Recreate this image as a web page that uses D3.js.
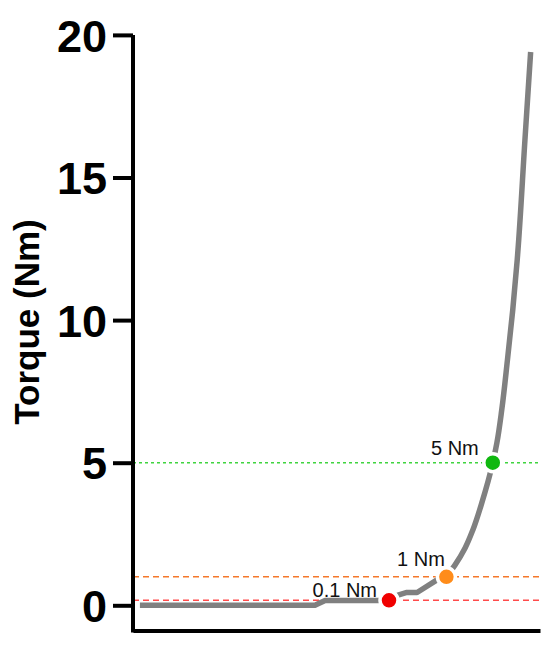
<!DOCTYPE html>
<html lang="en">
<head>
<meta charset="UTF-8">
<title>Torque curve</title>
<style>
html, body {
  margin: 0;
  padding: 0;
  background: #fff;
}
body {
  font-family: Arial, 'Liberation Sans', sans-serif;
}
.axis path,
.axis line {
  stroke: #000;
  stroke-width: 4;
}
.axis text {
  font-size: 45px;
  font-weight: bold;
  fill: #000;
}
.label {
  font-size: 20px;
  fill: #111;
}
.curve {
  fill: none;
  stroke: #808080;
  stroke-width: 5.5;
}
</style>
</head>
<body>
<svg width="550" height="648"></svg>
<script src="https://cdnjs.cloudflare.com/ajax/libs/d3/7.8.5/d3.min.js"></script>
<script>
// position along the (unlabelled) x axis, 0-100
const position = [1.7, 44.7, 47.2, 60.0, 62.9, 65.1, 67.3, 69.8, 74.7, 77.0,
  79.1, 81.6, 83.5, 85.7, 88.4, 89.4, 90.6, 92.0, 93.3, 94.4, 96.3, 97.7];
// torque in Nm
const torque = [0, 0, 0.17, 0.17, 0.175, 0.36, 0.45, 0.45, 0.89, 1.0,
  1.41, 2.01, 2.64, 3.59, 5.0, 5.69, 6.85, 8.6, 10.35, 12.11, 16.32, 19.4];

// threshold crossings
const thresholdLabels = ['0.1 Nm', '1 Nm', '5 Nm'];
const thresholdTorque = [0.175, 1.0, 5.0];
const thresholdPosition = [62.9, 77.0, 88.4];

const yTicks = [0, 5, 10, 15, 20];

// styles per threshold
const lineColors = ['#ff4a4a', '#f5782a', '#3fd43f'];
const dotColors = ['#f00000', '#ff8c1a', '#10b810'];
const dashes = ['6,4', '6,4', '3,3'];
const labelOffsets = [[-12, -3], [-1.5, -11], [-14, -8]];

var svg = d3.select('svg');

var x = d3.scaleLinear().domain([0, 100]).range([133, 540]);
var y = d3.scaleLinear().domain([0, 20]).range([605.3, 34.9]);

// dashed threshold lines
svg.append('g')
  .selectAll('line')
  .data(thresholdTorque)
  .enter()
  .append('line')
  .attr('x1', x(0))
  .attr('x2', x(100))
  .attr('y1', d => y(d))
  .attr('y2', d => y(d))
  .attr('stroke', (d, i) => lineColors[i])
  .attr('stroke-width', 1.5)
  .attr('stroke-dasharray', (d, i) => dashes[i]);

// y axis
var yAxis = svg.append('g')
  .attr('class', 'axis')
  .attr('transform', 'translate(' + x(0) + ',0)')
  .call(d3.axisLeft(y).tickValues(yTicks).tickSize(20).tickSizeOuter(0).tickPadding(6));
yAxis.select('.domain').attr('d', 'M0,' + y(20) + 'V632.5');
yAxis.selectAll('text').attr('dy', '0.36em');

// x axis, no ticks
svg.append('g')
  .attr('class', 'axis')
  .attr('transform', 'translate(0,630.5)')
  .call(d3.axisBottom(x).tickValues([]).tickSizeOuter(0));

svg.append('text')
  .attr('transform', 'translate(39,322) rotate(-90)')
  .attr('text-anchor', 'middle')
  .attr('font-size', 35)
  .attr('font-weight', 'bold')
  .text('Torque (Nm)');

// torque curve: low flat part straight, steep part smoothed along y
var pts = torque.map((t, i) => [position[i], t]);
var split = 9;

var lowLine = d3.line()
  .x(d => x(d[0]))
  .y(d => y(d[1]));

var highLine = d3.line()
  .x(d => x(d[0]))
  .y(d => y(d[1]))
  .curve(d3.curveMonotoneY);

svg.append('path')
  .attr('class', 'curve')
  .attr('stroke-linejoin', 'round')
  .attr('d', lowLine(pts.slice(0, split + 1)));

svg.append('path')
  .attr('class', 'curve')
  .attr('d', highLine(pts.slice(split)));

// threshold dots
svg.append('g')
  .selectAll('circle')
  .data(thresholdTorque)
  .enter()
  .append('circle')
  .attr('cx', (d, i) => x(thresholdPosition[i]))
  .attr('cy', d => y(d))
  .attr('r', 9)
  .attr('fill', (d, i) => dotColors[i])
  .attr('stroke', '#fff')
  .attr('stroke-width', 3.5);

svg.append('g')
  .selectAll('text')
  .data(thresholdLabels)
  .enter()
  .append('text')
  .attr('class', 'label')
  .attr('text-anchor', 'end')
  .attr('x', (d, i) => x(thresholdPosition[i]) + labelOffsets[i][0])
  .attr('y', (d, i) => y(thresholdTorque[i]) + labelOffsets[i][1])
  .text(d => d);
</script>
</body>
</html>
